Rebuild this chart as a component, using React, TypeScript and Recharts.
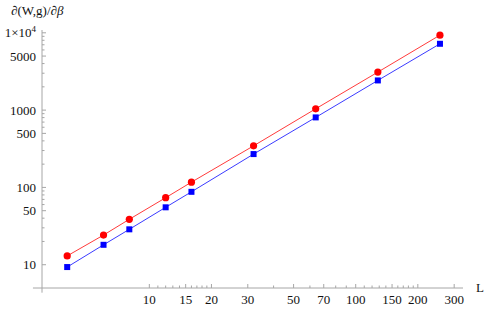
import { LineChart, Line, XAxis, YAxis, ReferenceLine } from 'recharts';

// system sizes L
const sizes = [4, 6, 8, 12, 16, 32, 64, 128, 256];
// red circles (upper series)
const redValues = [13, 24.2, 38.7, 73.6, 117, 345, 1040, 3100, 9330];
// blue squares (lower series)
const blueValues = [9.33, 18.1, 28.7, 55.3, 87.7, 270, 805, 2420, 7210];

const xMajor = [10, 15, 20, 30, 50, 70, 100, 150, 200, 300];
const xMinor = [11, 12, 13, 14, 16, 17, 18, 19, 40, 60, 80, 90, 110, 120, 130, 140, 160, 170, 180, 190];
const yMajor = [10, 50, 100, 500, 1000, 5000, 10000];
const yMinor = [20, 30, 40, 60, 70, 80, 90, 200, 300, 400, 600, 700, 800, 900, 2000, 3000, 4000, 6000, 7000, 8000, 9000];

const data = sizes.map((L, i) => ({ L, red: redValues[i], blue: blueValues[i] }));

const AXIS = '#a6a6a6';
const FONT = 'Liberation Serif, Times New Roman, DejaVu Serif, serif';

const XTick = (props: any) => {
  const { x, y, payload } = props;
  const major = xMajor.includes(payload.value);
  return (
    <g>
      <line x1={x} x2={x} y1={y} y2={y - (major ? 4 : 2.5)} stroke={AXIS} />
      {major && (
        <text x={x} y={y + 16} textAnchor="middle" fontSize={13} style={{ fontFamily: FONT }} fill="#111">
          {payload.value}
        </text>
      )}
    </g>
  );
};

const YTick = (props: any) => {
  const { x, y, payload } = props;
  const v = payload.value;
  const major = yMajor.includes(v);
  return (
    <g>
      <line x1={x} x2={x + (major ? 4 : 2.5)} y1={y} y2={y} stroke={AXIS} />
      {major && (
        <text x={x - 6} y={y + 4.5} textAnchor="end" fontSize={13} style={{ fontFamily: FONT }} fill="#111">
          {v === 10000 ? (
            <>
              1×10<tspan dy={-5} fontSize={9}>4</tspan>
            </>
          ) : (
            v
          )}
        </text>
      )}
    </g>
  );
};

const RedDot = (props: any) => {
  const { cx, cy } = props;
  return <circle cx={cx} cy={cy} r={3.6} fill="#ff0000" />;
};

const BlueDot = (props: any) => {
  const { cx, cy } = props;
  return <rect x={cx - 3} y={cy - 3} width={6} height={6} fill="#0000ff" />;
};

export default function App() {
  return (
    <div style={{ position: 'absolute', left: 0, top: 0, width: 485, height: 309, background: '#fff', fontFamily: FONT }}>
      <LineChart width={485} height={309} data={data} margin={{ top: 30, right: 22, bottom: 0, left: 0 }}>
        <XAxis
          dataKey="L"
          type="number"
          scale="log"
          domain={[3.02, 331]}
          allowDataOverflow
          ticks={[...xMajor, ...xMinor].sort((a, b) => a - b)}
          interval={0}
          tick={<XTick />}
          tickLine={false}
          tickSize={0}
          tickMargin={0}
          axisLine={{ stroke: AXIS }}
          height={21}
        />
        <YAxis
          type="number"
          scale="log"
          domain={[5, 10870]}
          allowDataOverflow
          ticks={[...yMajor, ...yMinor].sort((a, b) => a - b)}
          interval={0}
          tick={<YTick />}
          tickLine={false}
          tickSize={0}
          tickMargin={0}
          axisLine={{ stroke: AXIS }}
          width={42}
        />
        <ReferenceLine
          segment={[{ x: 2.73, y: 5 }, { x: 3.02, y: 5 }]}
          stroke={AXIS}
          ifOverflow="visible"
        />
        <ReferenceLine
          segment={[{ x: 3.02, y: 4.35 }, { x: 3.02, y: 5 }]}
          stroke={AXIS}
          ifOverflow="visible"
        />
        <Line
          dataKey="red"
          stroke="#ff3b3b"
          strokeWidth={1}
          dot={<RedDot />}
          activeDot={false}
          isAnimationActive={false}
        />
        <Line
          dataKey="blue"
          stroke="#3b3bff"
          strokeWidth={1}
          dot={<BlueDot />}
          activeDot={false}
          isAnimationActive={false}
        />
      </LineChart>
      <div style={{ position: 'absolute', left: 11, top: 3, fontFamily: FONT, fontSize: 13, lineHeight: '16px', color: '#111' }}>
        ∂(W,g)/∂<i>β</i>
      </div>
      <div style={{ position: 'absolute', left: 476, top: 280, fontFamily: FONT, fontSize: 13, lineHeight: '16px', color: '#111' }}>
        L
      </div>
    </div>
  );
}
